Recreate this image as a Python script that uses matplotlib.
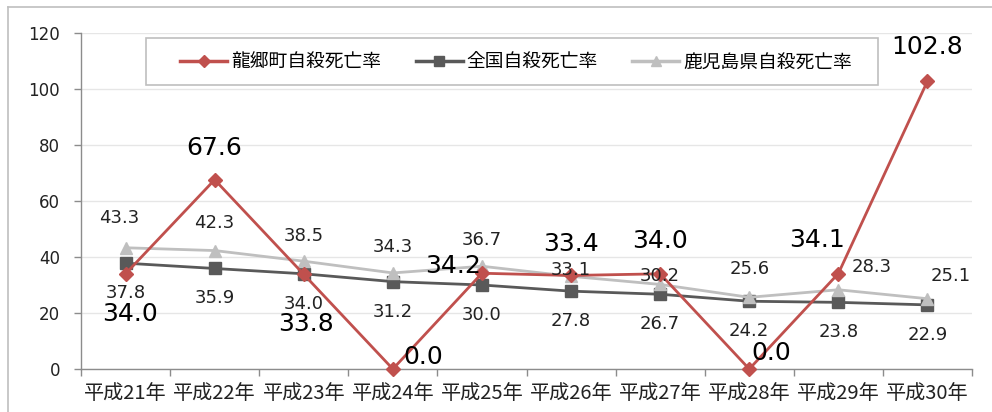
import matplotlib
matplotlib.use("Agg")
import matplotlib.pyplot as plt
from matplotlib.lines import Line2D
from matplotlib.patches import Rectangle

plt.rcParams['font.family'] = ['Noto Sans CJK JP', 'DejaVu Sans']

categories = ['平成21年', '平成22年', '平成23年', '平成24年', '平成25年',
              '平成26年', '平成27年', '平成28年', '平成29年', '平成30年']
tatsugo = [34.0, 67.6, 33.8, 0.0, 34.2, 33.4, 34.0, 0.0, 34.1, 102.8]
national = [37.8, 35.9, 34.0, 31.2, 30.0, 27.8, 26.7, 24.2, 23.8, 22.9]
kagoshima = [43.3, 42.3, 38.5, 34.3, 36.7, 33.1, 30.2, 25.6, 28.3, 25.1]
series_names = ['龍郷町自殺死亡率', '全国自殺死亡率', '鹿児島県自殺死亡率']
y_ticks = [0, 20, 40, 60, 80, 100, 120]

RED = '#C0504D'
DARK = '#595959'
LIGHT = '#BFBFBF'
AXIS = '#8C8C8C'
NUMFONT = 'DejaVu Sans'

fig = plt.figure(figsize=(9.92, 4.12), dpi=100)
ax = fig.add_axes([81 / 992, 1 - 369 / 412, (972 - 81) / 992, (369 - 33) / 412])

x = list(range(len(categories)))

ax.plot(x, national, color=DARK, lw=2.0, marker='s', ms=8, mec=DARK, mfc=DARK,
        zorder=3, clip_on=False)
ax.plot(x, kagoshima, color=LIGHT, lw=2.0, marker='^', ms=9, mec=LIGHT, mfc=LIGHT,
        zorder=4, clip_on=False)
ax.plot(x, tatsugo, color=RED, lw=2.0, marker='D', ms=7.5, mec=RED, mfc=RED,
        zorder=5, clip_on=False)

# label offsets in pixels (dx, dy) for each series
off_nat = [(0, -30)] * len(categories)
off_kag = [(-6, 30), (0, 28), (0, 25), (0, 26), (0, 26),
           (0, 6), (0, 8), (0, 28), (33, 23), (23, 23)]
off_tat = [(4, -40), (0, 32), (2, -50), (30, 12), (-29, 7),
           (0, 31), (0, 33), (22, 16), (-21, 34), (0, 34)]

for i, v in enumerate(national):
    ax.annotate(f'{v:.1f}', (i, v), xytext=off_nat[i], textcoords='offset pixels',
                ha='center', va='center', fontsize=13, family=NUMFONT,
                color='#222222', zorder=6, annotation_clip=False)
for i, v in enumerate(kagoshima):
    ax.annotate(f'{v:.1f}', (i, v), xytext=off_kag[i], textcoords='offset pixels',
                ha='center', va='center', fontsize=13, family=NUMFONT,
                color='#222222', zorder=6, annotation_clip=False)
for i, v in enumerate(tatsugo):
    ax.annotate(f'{v:.1f}', (i, v), xytext=off_tat[i], textcoords='offset pixels',
                ha='center', va='center', fontsize=18, family=NUMFONT,
                color='black', zorder=7, annotation_clip=False)

ax.set_xlim(-0.5, len(categories) - 0.5)
ax.set_ylim(0, 120)
ax.set_yticks(y_ticks)
ax.set_yticklabels([str(t) for t in y_ticks], family=NUMFONT, fontsize=12, color='#222222')
ax.set_xticks(x)
ax.set_xticklabels(categories, fontsize=14.5, color='#222222')
ax.set_xticks([i - 0.5 for i in range(len(categories) + 1)], minor=True)
ax.tick_params(axis='x', which='major', length=0, pad=10)
ax.tick_params(axis='x', which='minor', length=5, width=1, color=AXIS, direction='out')
ax.tick_params(axis='y', which='major', length=5, width=1, color=AXIS, pad=10)

ax.grid(axis='y', color='#E6E6E6', lw=1)
ax.set_axisbelow(True)
for s in ['top', 'right']:
    ax.spines[s].set_visible(False)
for s in ['left', 'bottom']:
    ax.spines[s].set_color(AXIS)
    ax.spines[s].set_linewidth(1)

# legend box drawn as a separate rectangle so its size is independent of padding
fig.add_artist(Rectangle((146 / 992, 1 - 85 / 412), 732 / 992, 47 / 412,
                         transform=fig.transFigure, facecolor='white',
                         edgecolor='#BFBFBF', lw=1.2, zorder=9))

handles = [
    Line2D([], [], color=RED, lw=2.5, marker='D', ms=6, mec=RED, mfc=RED),
    Line2D([], [], color=DARK, lw=2.5, marker='s', ms=7, mec=DARK, mfc=DARK),
    Line2D([], [], color=LIGHT, lw=2.5, marker='^', ms=7, mec=LIGHT, mfc=LIGHT),
]
leg = fig.legend(handles, series_names, ncol=3, loc='center',
                 bbox_to_anchor=(516 / 992, 1 - 62 / 412),
                 frameon=False, fontsize=13.5,
                 handlelength=2.5, handletextpad=0.2, columnspacing=1.85,
                 borderpad=0.0, borderaxespad=0)
leg.set_zorder(10)

# outer chart frame (top and left edges)
fig.add_artist(Line2D([8 / 992, 1], [1 - 7 / 412, 1 - 7 / 412], color='#BFBFBF', lw=1.2))
fig.add_artist(Line2D([8 / 992, 8 / 992], [0, 1 - 7 / 412], color='#BFBFBF', lw=1.2))

fig.savefig('out.png', dpi=100)
